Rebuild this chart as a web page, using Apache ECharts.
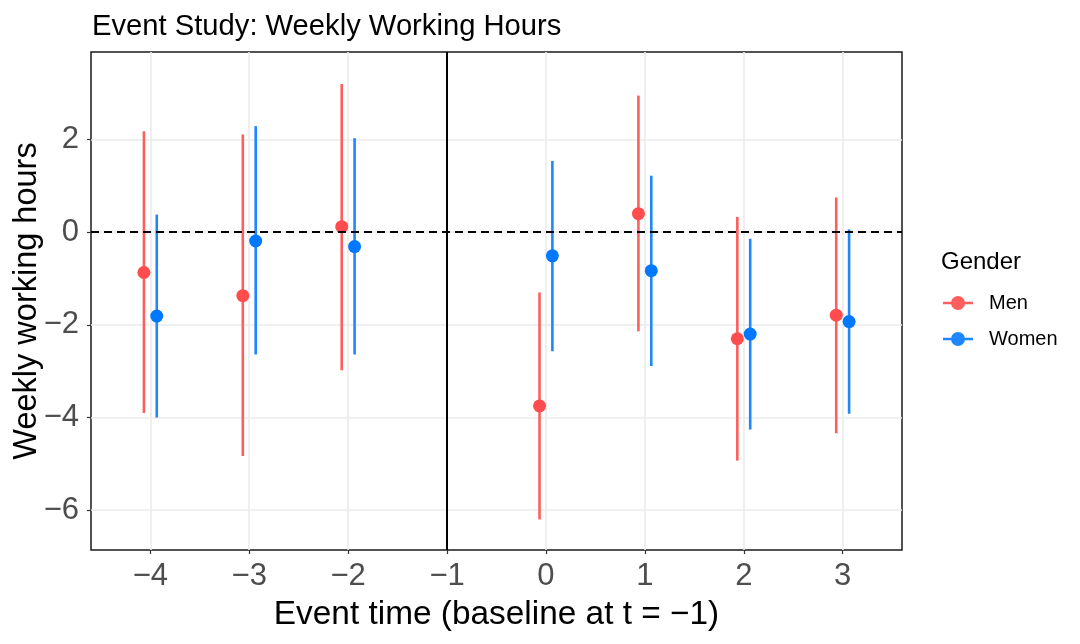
<!DOCTYPE html>
<html>
<head>
<meta charset="utf-8">
<script src="https://cdn.jsdelivr.net/npm/echarts@6.0.0/dist/echarts.min.js"></script>
<style>
  html, body { margin: 0; padding: 0; background: #fff; }
  #chart { width: 1080px; height: 644px; }
</style>
</head>
<body>
<div id="chart"></div>
<script>
// event times and estimates
const eventTimes = [-4, -3, -2, 0, 1, 2, 3]
const menEst = [-0.87, -1.37, 0.12, -3.75, 0.40, -2.30, -1.79]
const menLo = [-3.90, -4.83, -2.98, -6.20, -2.14, -4.93, -4.34]
const menHi = [2.18, 2.11, 3.20, -1.30, 2.95, 0.33, 0.75]
const womenEst = [-1.81, -0.19, -0.31, -0.51, -0.83, -2.20, -1.93]
const womenLo = [-4.00, -2.64, -2.64, -2.57, -2.89, -4.26, -3.92]
const womenHi = [0.38, 2.29, 2.03, 1.54, 1.22, -0.14, 0.06]
const dodge = 0.065

const xTicks = [-4, -3, -2, -1, 0, 1, 2, 3]
const yTicks = [-6, -4, -2, 0, 2]

const FONT = "'Liberation Sans', Arial, Helvetica, sans-serif"
const menColor = '#FF4D4D'
const menLine = '#FF5E5E'
const womenColor = '#0078FF'
const womenLine = '#1E87FF'

const minus = v => String(v).replace('-', '\u2212')

const iconPath = 'path://M0,5.8L30,5.8L30,8.2L0,8.2Z M8,7A7,7 0 1 1 22,7A7,7 0 1 1 8,7Z'

const barSeries = (name, lo, hi, off, color) => ({
  name,
  type: 'custom',
  z: 2,
  itemStyle: { color },
  encode: { x: 0, y: [1, 2] },
  data: eventTimes.map((t, i) => [t + off, lo[i], hi[i]]),
  renderItem: (params, api) => {
    const x = api.value(0)
    const p1 = api.coord([x, api.value(1)])
    const p2 = api.coord([x, api.value(2)])
    return {
      type: 'line',
      shape: { x1: p1[0], y1: p1[1], x2: p2[0], y2: p2[1] },
      style: { stroke: color, lineWidth: 2.6 }
    }
  }
})

const pointSeries = (name, est, off, color) => ({
  name,
  type: 'scatter',
  z: 3,
  symbol: 'circle',
  symbolSize: 13,
  itemStyle: { color, opacity: 1 },
  data: eventTimes.map((t, i) => [t + off, est[i]])
})

const chart = echarts.init(document.getElementById('chart'))

const option = {
  animation: false,
  backgroundColor: '#fff',
  textStyle: { fontFamily: FONT },
  title: [
    {
      text: 'Event Study: Weekly Working Hours',
      left: 87,
      top: 7,
      textStyle: { fontFamily: FONT, fontSize: 29.2, fontWeight: 'normal', color: '#000' }
    },
    {
      text: 'Gender',
      left: 936,
      top: 245,
      textStyle: { fontFamily: FONT, fontSize: 24, fontWeight: 'normal', color: '#000' }
    }
  ],
  legend: {
    orient: 'vertical',
    left: 938,
    top: 288,
    itemWidth: 30,
    itemHeight: 14,
    itemGap: 16,
    selectedMode: false,
    icon: iconPath,
    data: ['Men', 'Women'],
    textStyle: { fontFamily: FONT, fontSize: 20, color: '#000', padding: [0, 0, 0, 11] }
  },
  grid: {
    left: 91,
    right: 178,
    top: 52,
    bottom: 94,
    containLabel: false,
    outerBoundsMode: 'none',
    show: true,
    borderColor: '#1a1a1a',
    borderWidth: 1.5,
    backgroundColor: '#fff'
  },
  xAxis: {
    type: 'value',
    min: -4.6,
    max: 3.6,
    name: 'Event time (baseline at t = \u22121)',
    nameLocation: 'middle',
    nameGap: 48,
    nameTextStyle: { fontFamily: FONT, fontSize: 33.4, color: '#000' },
    axisLine: { show: false, onZero: false },
    axisTick: { show: true, length: 4, customValues: xTicks, lineStyle: { color: '#333', width: 1.2 } },
    axisLabel: {
      customValues: xTicks,
      margin: 11,
      fontFamily: FONT,
      fontSize: 31,
      color: '#4D4D4D',
      formatter: minus
    },
    splitLine: { show: true, lineStyle: { color: '#EBEBEB', width: 1.6 } }
  },
  yAxis: {
    type: 'value',
    min: -6.86,
    max: 3.89,
    name: 'Weekly working hours',
    nameLocation: 'middle',
    nameMoveOverlap: false,
    nameGap: 47,
    nameTextStyle: { fontFamily: FONT, fontSize: 32.5, color: '#000' },
    axisLine: { show: false, onZero: false },
    axisTick: { show: true, length: 4, customValues: yTicks, lineStyle: { color: '#333', width: 1.2 } },
    axisLabel: {
      customValues: yTicks,
      margin: 12,
      fontFamily: FONT,
      fontSize: 31,
      color: '#4D4D4D',
      formatter: minus
    },
    splitLine: { show: true, lineStyle: { color: '#EBEBEB', width: 1.6 } }
  },
  series: [
    {
      name: 'refs',
      type: 'scatter',
      data: [],
      silent: true,
      markLine: {
        silent: true,
        symbol: ['none', 'none'],
        label: { show: false },
        animation: false,
        data: [
          { yAxis: 0, lineStyle: { color: '#000', width: 2, type: [8, 5] } },
          { xAxis: -1, lineStyle: { color: '#000', width: 2, type: 'solid' } }
        ]
      }
    },
    barSeries('Men', menLo, menHi, -dodge, menLine),
    barSeries('Women', womenLo, womenHi, dodge, womenLine),
    pointSeries('Men', menEst, -dodge, menColor),
    pointSeries('Women', womenEst, dodge, womenColor)
  ]
}

chart.setOption(option)
</script>
</body>
</html>
